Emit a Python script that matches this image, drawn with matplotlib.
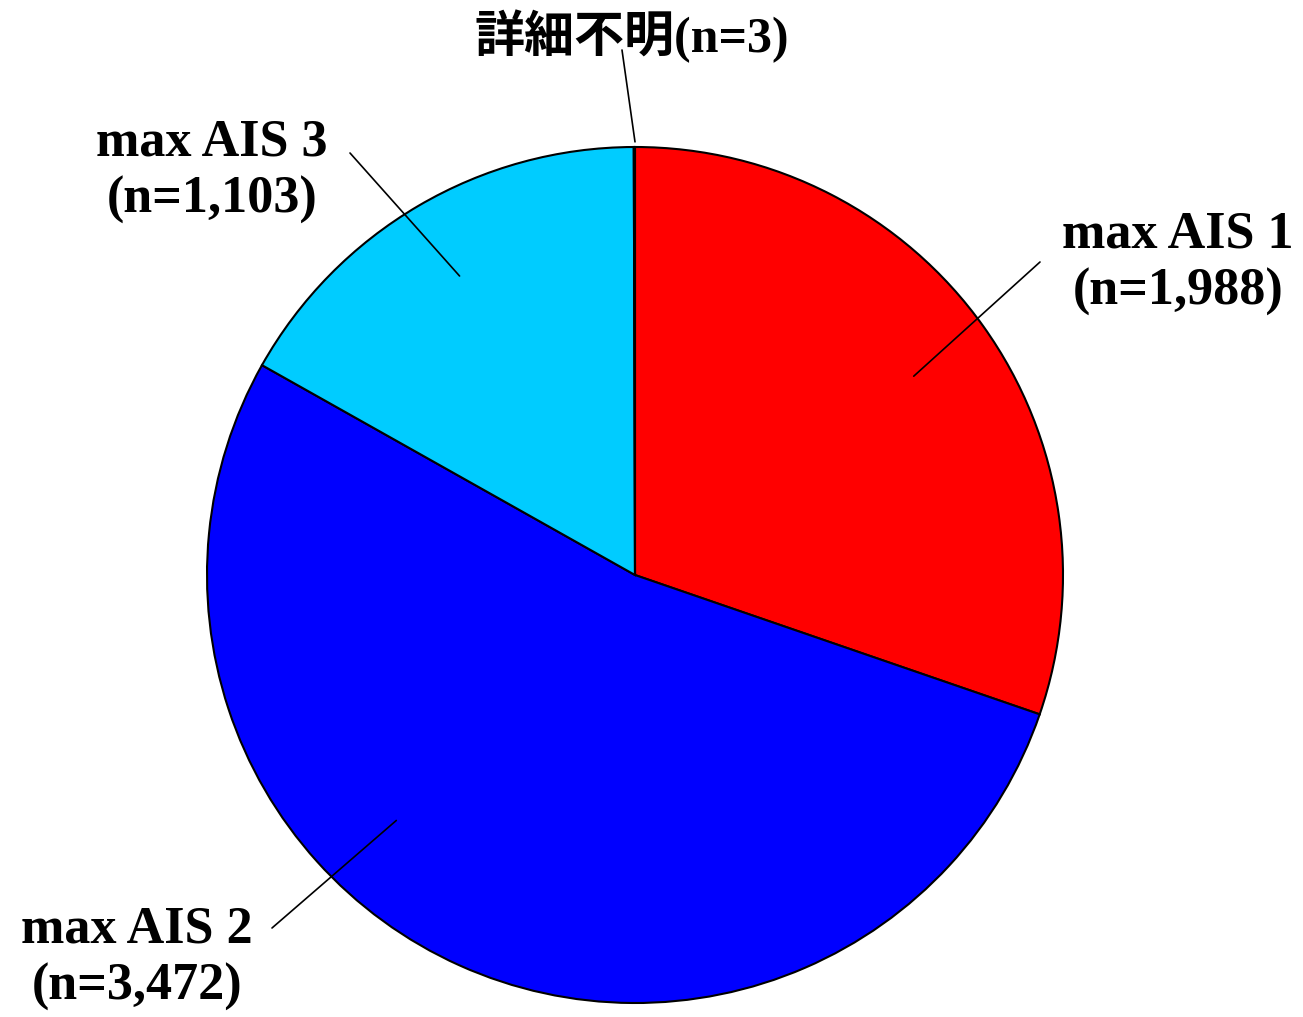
import numpy as np
import matplotlib.pyplot as plt

# data
labels = ["max AIS 1\n(n=1,988)", "max AIS 2\n(n=3,472)", "max AIS 3\n(n=1,103)", "詳細不明(n=3)"]
counts = [1988, 3472, 1103, 3]
colors = ["#FF0000", "#0000FF", "#00CCFF", "#CCCCCC"]

W, H = 1303, 1017
fig = plt.figure(figsize=(W / 100, H / 100), dpi=100)
ax = fig.add_axes([0, 0, 1, 1])

cx, cy, R = 635, H - 575, 428
wedges, _ = ax.pie(counts, colors=colors, startangle=90, counterclock=False,
                   center=(cx, cy), radius=R, frame=True,
                   wedgeprops=dict(edgecolor='black', linewidth=1.5))
ax.set_xlim(0, W)
ax.set_ylim(0, H)
ax.set_aspect('equal')
ax.axis('off')

# label positions (pixels from top-left) and leader line starts
text_pos = [(1178, 263), (137, 958), (212, 171), (632, 36)]
line_start = [(1040, 262), (272, 928), (350, 153), (622, 50)]
anchor_ang = [None, 225.8, None, 90.0]
anchor_r = [0.8, 0.8, 0.81, 1.012]

font = ['Liberation Serif', 'Noto Sans CJK JP']
for i, w in enumerate(wedges):
    ang = anchor_ang[i]
    if ang is None:
        ang = (w.theta1 + w.theta2) / 2
    px = cx + anchor_r[i] * R * np.cos(np.radians(ang))
    py = cy + anchor_r[i] * R * np.sin(np.radians(ang))
    sx, sy = line_start[i]
    ax.annotate('', xy=(px, py), xytext=(sx, H - sy),
                arrowprops=dict(arrowstyle='-', lw=1.2, color='black',
                                shrinkA=0, shrinkB=0))
    tx, ty = text_pos[i]
    ax.text(tx, H - ty, labels[i], ha='center', va='center', multialignment='center',
            fontsize=36 if i == 3 else 37.5, fontweight='bold', family=font,
            linespacing=1.25)

fig.savefig('out.png', dpi=100)
